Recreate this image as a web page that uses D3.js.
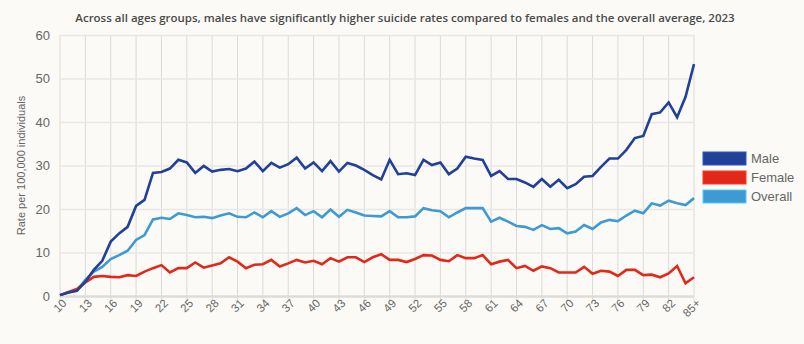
<!DOCTYPE html>
<html>
<head>
<meta charset="utf-8">
<script src="https://cdn.jsdelivr.net/npm/d3@7"></script>
<style>
  html, body { margin: 0; padding: 0; background: #fbfaf7; }
  svg { display: block; font-family: "Liberation Sans", Arial, sans-serif; }
</style>
</head>
<body>
<svg width="804" height="344"></svg>
<script>
// ages 10..84 plus the 85+ bucket
const ages = d3.range(10, 85).map(String).concat(["85+"]);

const male = [0.2, 0.8, 1.2, 3.3, 6.0, 8.1, 12.5, 14.4, 15.9, 20.7, 22.1, 28.3, 28.5, 29.3, 31.3, 30.7,
  28.3, 29.9, 28.6, 29.0, 29.2, 28.7, 29.3, 30.9, 28.7, 30.6, 29.5, 30.3, 31.8, 29.3, 30.7,
  28.7, 31.0, 28.6, 30.6, 30.0, 29.0, 27.8, 26.8, 31.3, 28.0, 28.2, 27.8, 31.3, 30.1, 30.7,
  28.0, 29.3, 32.0, 31.6, 31.3, 27.6, 28.7, 26.9, 26.9, 26.1, 25.1, 26.9, 25.1, 26.7, 24.8,
  25.7, 27.4, 27.6, 29.7, 31.6, 31.6, 33.6, 36.3, 36.8, 41.8, 42.2, 44.5, 41.1, 45.8, 53.3];

const female = [0.2, 0.9, 1.6, 3.1, 4.4, 4.6, 4.4, 4.3, 4.8, 4.6, 5.6, 6.4, 7.1, 5.4, 6.4, 6.4,
  7.7, 6.5, 7.0, 7.5, 8.9, 7.9, 6.4, 7.2, 7.3, 8.3, 6.8, 7.5, 8.3, 7.7, 8.1,
  7.3, 8.7, 7.9, 8.9, 8.9, 7.8, 8.9, 9.6, 8.3, 8.3, 7.8, 8.5, 9.4, 9.3, 8.3,
  8.0, 9.4, 8.7, 8.7, 9.4, 7.3, 7.9, 8.3, 6.4, 6.9, 5.8, 6.8, 6.4, 5.4, 5.4,
  5.4, 6.7, 5.1, 5.8, 5.6, 4.6, 6.0, 6.0, 4.8, 4.9, 4.3, 5.2, 6.9, 2.9, 4.3];

const overall = [0.2, 0.8, 1.3, 3.7, 5.6, 6.7, 8.5, 9.4, 10.4, 12.9, 14.0, 17.6, 18.0, 17.7, 19.0, 18.6,
  18.1, 18.2, 17.9, 18.5, 19.0, 18.2, 18.1, 19.2, 18.1, 19.5, 18.2, 19.0, 20.2, 18.6, 19.5,
  18.1, 19.9, 18.2, 19.8, 19.2, 18.5, 18.4, 18.3, 19.5, 18.1, 18.1, 18.3, 20.2, 19.7, 19.5,
  18.1, 19.2, 20.2, 20.2, 20.2, 17.1, 18.0, 17.1, 16.1, 15.9, 15.2, 16.3, 15.4, 15.6, 14.4,
  14.8, 16.3, 15.4, 16.9, 17.5, 17.2, 18.5, 19.6, 19.0, 21.3, 20.8, 21.9, 21.3, 20.9, 22.5];

const seriesNames = ["Male", "Female", "Overall"];
const seriesColors = ["#21409a", "#e1291b", "#3d9ad2"];
const yTicks = [0, 10, 20, 30, 40, 50, 60];
const xTicks = ages.filter((d, i) => i % 3 === 0);

const svg = d3.select("svg");
const margin = { left: 60, right: 110, top: 35, bottom: 48 };
const W = 804, H = 344;

const x = d3.scalePoint().domain(ages).range([margin.left, W - margin.right]);
const y = d3.scaleLinear().domain([0, 60]).range([H - margin.bottom, margin.top]);

// title
svg.append("text")
  .attr("x", 405).attr("y", 22)
  .attr("text-anchor", "middle")
  .attr("fill", "#4a4a4a")
  .attr("font-family", "'Open Sans', sans-serif")
  .attr("font-size", 11.5)
  .attr("font-weight", 600)
  .text("Across all ages groups, males have significantly higher suicide rates compared to females and the overall average, 2023");

// vertical grid
svg.append("g")
  .selectAll("line")
  .data(xTicks)
  .join("line")
  .attr("x1", d => x(d)).attr("x2", d => x(d))
  .attr("y1", y(60)).attr("y2", y(0) + 5)
  .attr("stroke", "#dcdad6")
  .attr("stroke-width", 1);

// horizontal grid + y labels
const yAxis = svg.append("g")
  .attr("transform", `translate(${margin.left},0)`)
  .call(d3.axisLeft(y).tickValues(yTicks).tickSize(6).tickPadding(4))
  .call(g => g.select(".domain").remove());
yAxis.selectAll(".tick line")
  .attr("x2", W - margin.right - margin.left)
  .attr("stroke", d => d === 0 ? "#dedcd8" : "#e9e7e3")
  .attr("stroke-width", d => d === 0 ? 2.5 : 1.5);
yAxis.selectAll(".tick text")
  .attr("fill", "#666")
  .attr("font-size", 13);

// x labels
svg.append("g")
  .attr("transform", `translate(0,${y(0)})`)
  .call(d3.axisBottom(x).tickValues(xTicks).tickSize(0))
  .call(g => g.select(".domain").remove())
  .selectAll(".tick text")
  .attr("fill", "#666")
  .attr("font-size", 11.5)
  .attr("text-anchor", "end")
  .attr("transform", "translate(4,5) rotate(-45)")
  .attr("dy", "0.35em")
  .attr("y", 0);

// y axis title
svg.append("text")
  .attr("transform", `translate(25,${(y(0) + y(60)) / 2}) rotate(-90)`)
  .attr("text-anchor", "middle")
  .attr("fill", "#666")
  .attr("font-size", 11)
  .text("Rate per 100,000 individuals");

// lines
const lineGen = d3.line()
  .x((d, i) => x(ages[i]))
  .y(d => y(d));

const seriesData = [male, female, overall];
svg.append("g")
  .selectAll("path")
  .data([2, 1, 0])
  .join("path")
  .attr("d", i => lineGen(seriesData[i]))
  .attr("fill", "none")
  .attr("stroke", i => seriesColors[i])
  .attr("stroke-width", 2.6)
  .attr("stroke-linejoin", "miter");

// legend
const legend = svg.append("g").attr("transform", "translate(703,152)");
const item = legend.selectAll("g")
  .data(seriesNames)
  .join("g")
  .attr("transform", (d, i) => `translate(0,${i * 19})`);
item.append("rect")
  .attr("width", 43).attr("height", 13)
  .attr("fill", (d, i) => seriesColors[i])
  .attr("stroke", (d, i) => d3.color(seriesColors[i]).brighter(0.8))
  .attr("stroke-width", 1);
item.append("text")
  .attr("x", 48).attr("y", 11)
  .attr("fill", "#666")
  .attr("font-size", 13)
  .text(d => d);
</script>
</body>
</html>
